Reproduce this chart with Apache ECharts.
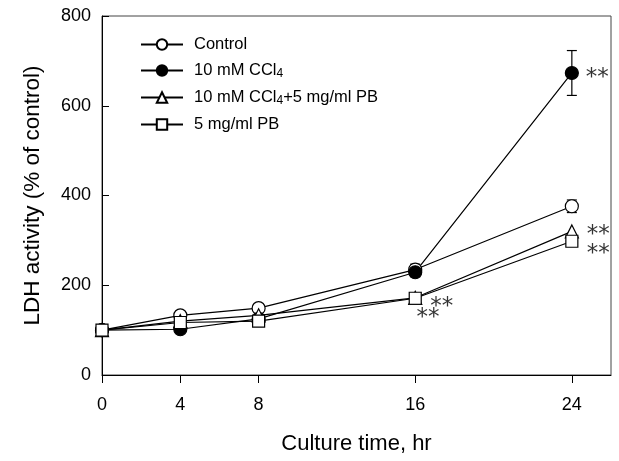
<!DOCTYPE html>
<html>
<head>
<meta charset="utf-8">
<script src="https://cdn.jsdelivr.net/npm/echarts@6/dist/echarts.min.js"></script>
<style>
  html, body { margin: 0; padding: 0; background: #fff; }
  #chart { width: 619px; height: 461px; }
</style>
</head>
<body>
<div id="chart"></div>
<script>
  // culture time (hr)
  const hours = [0, 4, 8, 16, 24]
  const tickHours = [0, 4, 8, 16, 24]

  // LDH activity, % of control
  const control = [100, 133, 149, 235, 376]
  const ccl4 = [100, 102, 125, 229, 673]
  const ccl4pb = [100, 120, 133, 172, 320]
  const pb = [100, 117, 120, 171, 298]

  // standard errors
  const controlErr = [0, 5, 5, 12, 14]
  const ccl4Err = [0, 5, 5, 10, 50]

  // ** significance marks [hr, value]
  const sigMarks = [[25.3, 673], [25.35, 324], [25.35, 280], [17.35, 162], [16.65, 138]]

  const lineColor = '#000'
  const font = 'Liberation Sans, Arial, sans-serif'

  function pairs (ys) {
    return hours.map((h, i) => [h, ys[i]])
  }

  function errData (ys, es) {
    return hours.map((h, i) => [h, ys[i], es[i]])
  }

  function lineSeries (name, ys, symbol, filled) {
    return {
      name: name,
      type: 'line',
      data: pairs(ys),
      symbol: symbol,
      symbolSize: symbol === 'rect' ? 12 : 13,
      showAllSymbol: true,
      lineStyle: { color: lineColor, width: 1.2 },
      itemStyle: {
        color: filled ? '#000' : '#fff',
        borderColor: '#000',
        borderWidth: 1.2
      },
      emphasis: { disabled: true },
      z: 3
    }
  }

  function errSeries (ys, es) {
    return {
      type: 'custom',
      data: errData(ys, es),
      z: 2,
      silent: true,
      renderItem: function (params, api) {
        let x = api.value(0)
        let y = api.value(1)
        let e = api.value(2)
        if (!e) return
        let top = api.coord([x, y + e])
        let bot = api.coord([x, y - e])
        let w = 5
        let style = { stroke: '#000', lineWidth: 1.2 }
        return {
          type: 'group',
          children: [
            { type: 'line', shape: { x1: top[0], y1: top[1], x2: bot[0], y2: bot[1] }, style: style },
            { type: 'line', shape: { x1: top[0] - w, y1: top[1], x2: top[0] + w, y2: top[1] }, style: style },
            { type: 'line', shape: { x1: bot[0] - w, y1: bot[1], x2: bot[0] + w, y2: bot[1] }, style: style }
          ]
        }
      }
    }
  }

  let myChart = echarts.init(document.getElementById('chart'))
  let option = {
    animation: false,
    backgroundColor: '#fff',
    grid: {
      left: 102,
      right: 8,
      top: 16,
      bottom: 86,
      outerBoundsMode: 'none',
      show: true,
      borderColor: '#444',
      borderWidth: 1
    },
    legend: {
      orient: 'vertical',
      left: 140,
      top: 36,
      padding: 0,
      itemWidth: 42,
      itemHeight: 13,
      itemGap: 9,
      selectedMode: false,
      data: ['Control', 'CCl4', 'CCl4PB', 'PB'],
      formatter: function (name) {
        if (name === 'Control') return 'Control'
        if (name === 'CCl4') return '10 mM CCl{sub|4}'
        if (name === 'CCl4PB') return '10 mM CCl{sub|4}+5 mg/ml PB'
        return '5 mg/ml PB'
      },
      textStyle: {
        fontFamily: font,
        fontSize: 16.5,
        color: '#000',
        padding: [0, 0, 0, 6],
        rich: {
          sub: { fontFamily: font, fontSize: 12, color: '#000', verticalAlign: 'bottom', padding: [7, 0, 0, 0] }
        }
      }
    },
    xAxis: {
      type: 'value',
      min: 0,
      max: 26,
      name: 'Culture time, hr',
      nameLocation: 'middle',
      nameGap: 58,
      nameTextStyle: { fontFamily: font, fontSize: 22, color: '#000' },
      axisLine: { show: true, lineStyle: { color: '#000', width: 1 } },
      axisTick: { show: true, length: 8, customValues: tickHours, lineStyle: { color: '#000' } },
      axisLabel: { customValues: tickHours, fontFamily: font, fontSize: 18, color: '#000', margin: 21 },
      splitLine: { show: false }
    },
    yAxis: {
      type: 'value',
      min: 0,
      max: 800,
      interval: 200,
      name: 'LDH activity (% of control)',
      nameLocation: 'middle',
      nameGap: 58,
      nameTextStyle: { fontFamily: font, fontSize: 22.5, color: '#000' },
      axisLine: { show: true, lineStyle: { color: '#000', width: 1 } },
      axisTick: { show: true, inside: true, length: 7, lineStyle: { color: '#000' } },
      axisLabel: { fontFamily: font, fontSize: 18, color: '#000', margin: 11 },
      splitLine: { show: false }
    },
    series: [
      errSeries(control, controlErr),
      errSeries(ccl4, ccl4Err),
      lineSeries('Control', control, 'circle', false),
      lineSeries('CCl4', ccl4, 'circle', true),
      lineSeries('CCl4PB', ccl4pb, 'triangle', false),
      lineSeries('PB', pb, 'rect', false),
      {
        type: 'scatter',
        data: sigMarks,
        symbolSize: 0,
        silent: true,
        z: 4,
        label: {
          show: true,
          position: 'inside',
          formatter: '**',
          fontFamily: 'DejaVu Sans, sans-serif',
          fontSize: 23,
          color: '#000',
          offset: [0, 5]
        }
      }
    ]
  }
  myChart.setOption(option)
</script>
</body>
</html>
